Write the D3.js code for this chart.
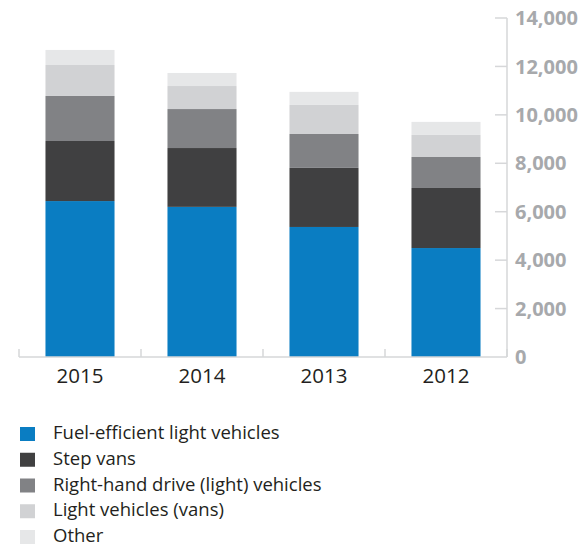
<!DOCTYPE html>
<html>
<head>
<meta charset="utf-8">
<script src="https://cdn.jsdelivr.net/npm/d3@7"></script>
<style>
	body { margin: 0; background: #fff; }
	svg text { font-family: "Open Sans", "Noto Sans", sans-serif; }
</style>
</head>
<body>
<div id="chart"></div>
<script>
'use strict';

// DATA
var years = ['2015', '2014', '2013', '2012'];
var seriesNames = [
	'Fuel-efficient light vehicles',
	'Step vans',
	'Right-hand drive (light) vehicles',
	'Light vehicles (vans)',
	'Other'
];
var fuelEfficient = [6440, 6200, 5370, 4500];
var stepVans = [2480, 2430, 2440, 2480];
var rightHand = [1860, 1610, 1400, 1280];
var lightVans = [1280, 950, 1200, 910];
var other = [620, 540, 540, 540];
var yTicks = [0, 2000, 4000, 6000, 8000, 10000, 12000, 14000];

var colors = ['#0a7dc2', '#404041', '#818285', '#d1d2d4', '#e6e7e8'];
var axisColor = '#d6d7d9';

var width = 582;
var height = 547;

var rows = years.map(function(y, i){
	return {
		year: y,
		s0: fuelEfficient[i],
		s1: stepVans[i],
		s2: rightHand[i],
		s3: lightVans[i],
		s4: other[i]
	};
});

var svg = d3.select('#chart').append('svg')
	.attr('width', width)
	.attr('height', height);

// SCALES
var xScale = d3.scaleBand()
	.domain(years)
	.range([19, 507])
	.paddingInner(0.434)
	.paddingOuter(0.217);

var yScale = d3.scaleLinear()
	.domain([0, 14000])
	.range([357, 18]);

var stack = d3.stack().keys(['s0', 's1', 's2', 's3', 's4']);
var layers = stack(rows);

// BARS
svg.append('g').attr('class', 'bars')
	.selectAll('g')
	.data(layers)
	.enter().append('g')
		.attr('fill', function(d, i){ return colors[i]; })
	.selectAll('rect')
	.data(function(d){ return d; })
	.enter().append('rect')
		.attr('x', function(d){ return xScale(d.data.year); })
		.attr('width', xScale.bandwidth())
		.attr('y', function(d){ return yScale(d[1]); })
		.attr('height', function(d){ return yScale(d[0]) - yScale(d[1]); });

// Y AXIS (right side, labels to the right of the line)
var yAxis = svg.append('g').attr('class', 'axis y');

yAxis.append('line')
	.attr('x1', 507).attr('x2', 507)
	.attr('y1', yScale(14000)).attr('y2', yScale(0))
	.attr('stroke', axisColor)
	.attr('stroke-width', 1.5);

yAxis.selectAll('line.tick')
	.data(yTicks.filter(function(t){ return t > 0; }))
	.enter().append('line')
		.attr('class', 'tick')
		.attr('x1', 495).attr('x2', 507)
		.attr('y1', function(d){ return yScale(d); })
		.attr('y2', function(d){ return yScale(d); })
		.attr('stroke', axisColor)
		.attr('stroke-width', 1.5);

yAxis.selectAll('text')
	.data(yTicks)
	.enter().append('text')
		.attr('x', 515)
		.attr('y', function(d){ return yScale(d); })
		.attr('dy', '0.36em')
		.attr('fill', '#a7a9ac')
		.attr('font-size', '20px')
		.attr('font-weight', 'bold')
		.text(function(d){ return d3.format(',')(d); });

// X AXIS
var xAxis = svg.append('g').attr('class', 'axis x');
var step = xScale.step();
var x0 = xScale.range()[0];

xAxis.append('line')
	.attr('x1', x0).attr('x2', 507)
	.attr('y1', yScale(0)).attr('y2', yScale(0))
	.attr('stroke', axisColor)
	.attr('stroke-width', 1.5);

xAxis.selectAll('line.tick')
	.data(d3.range(years.length + 1))
	.enter().append('line')
		.attr('class', 'tick')
		.attr('x1', function(i){ return x0 + i * step; })
		.attr('x2', function(i){ return x0 + i * step; })
		.attr('y1', yScale(0) - 8).attr('y2', yScale(0))
		.attr('stroke', axisColor)
		.attr('stroke-width', 1.5);

xAxis.selectAll('text')
	.data(years)
	.enter().append('text')
		.attr('x', function(d){ return xScale(d) + xScale.bandwidth() / 2; })
		.attr('y', 383)
		.attr('text-anchor', 'middle')
		.attr('fill', '#231f20')
		.attr('font-size', '20.5px')
		.text(function(d){ return d; });

// LEGEND
var legend = svg.append('g').attr('class', 'legend')
	.selectAll('g')
	.data(seriesNames)
	.enter().append('g')
		.attr('transform', function(d, i){ return 'translate(20,' + (439 + i * 25.75) + ')'; });

legend.append('rect')
	.attr('x', 0).attr('y', -12)
	.attr('width', 15).attr('height', 14)
	.attr('fill', function(d, i){ return colors[i]; });

legend.append('text')
	.attr('x', 33)
	.attr('y', 0)
	.attr('fill', '#231f20')
	.attr('font-size', '18.5px')
	.text(function(d){ return d; });
</script>
</body>
</html>
